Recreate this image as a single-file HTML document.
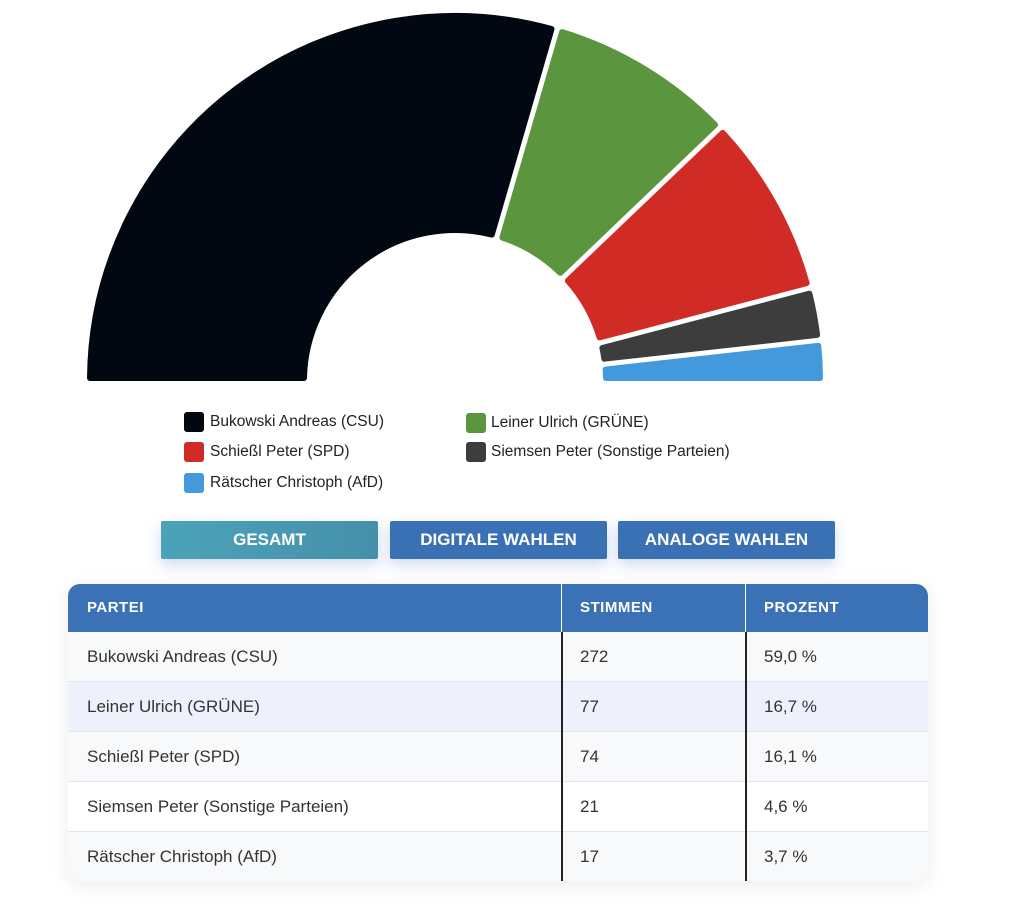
<!DOCTYPE html>
<html><head><meta charset="utf-8"><style>
body{margin:0;width:1024px;height:917px;background:#fff;font-family:"Liberation Sans",sans-serif;position:relative;overflow:hidden}
.a{position:absolute}
.sq{position:absolute;width:20px;height:20px;border-radius:3px}
.lt{position:absolute;font-size:15.5px;color:#222;line-height:20px}
.btn{position:absolute;top:521px;height:38px;width:217px;color:#fff;font-weight:bold;font-size:17px;text-align:center;line-height:38px;border-radius:2px;box-shadow:0 6px 14px rgba(60,110,200,0.25)}
.tbl{position:absolute;left:68px;top:584px;width:860px;height:297px;border-radius:12px;overflow:hidden;box-shadow:0 4px 20px rgba(0,0,0,0.08)}
.row{position:absolute;left:0;width:860px;height:49px;border-bottom:1px solid #e3e5ea;font-size:17px;color:#333;line-height:49px}
.row span{position:absolute}
</style></head><body>
<svg class="a" style="left:0;top:0" width="1024" height="400">
<g stroke-width="6" stroke-linejoin="round">
<path d="M90,378 A365,365 0 0 1 551.5,29 L491.8,234.6 A151,151 0 0 0 304,378 Z" fill="#020812" stroke="#020812"/>
<path d="M562.1,32.1 A365,365 0 0 1 715,124.8 L560.3,272.8 A151,151 0 0 0 502.4,237.6 Z" fill="#5b953e" stroke="#5b953e"/>
<path d="M722.7,132.9 A365,365 0 0 1 806.6,283.1 L599.6,337.4 A151,151 0 0 0 567.9,280.7 Z" fill="#d12b26" stroke="#d12b26"/>
<path d="M809.4,293.7 A365,365 0 0 1 817.1,334.9 L604.3,358.7 A151,151 0 0 0 602.4,348 Z" fill="#3d3d3d" stroke="#3d3d3d"/>
<path d="M818.3,345.8 A365,365 0 0 1 820,378 L606,378 A151,151 0 0 0 605.6,369.6 Z" fill="#4399db" stroke="#4399db"/>
</g></svg>
<div class="sq" style="left:184px;top:412px;background:#020812"></div><div class="lt" style="left:210px;top:412px">Bukowski Andreas (CSU)</div>
<div class="sq" style="left:466px;top:413px;background:#5b953e"></div><div class="lt" style="left:491px;top:413px">Leiner Ulrich (GRÜNE)</div>
<div class="sq" style="left:184px;top:442px;background:#d12b26"></div><div class="lt" style="left:210px;top:442px">Schießl Peter (SPD)</div>
<div class="sq" style="left:466px;top:442px;background:#3d3d3d"></div><div class="lt" style="left:491px;top:442px">Siemsen Peter (Sonstige Parteien)</div>
<div class="sq" style="left:184px;top:473px;background:#4399db"></div><div class="lt" style="left:210px;top:473px">Rätscher Christoph (AfD)</div>
<div class="btn" style="left:161px;background:linear-gradient(90deg,#4ba3b8,#4590aa)">GESAMT</div>
<div class="btn" style="left:390px;background:#3a70b4">DIGITALE WAHLEN</div>
<div class="btn" style="left:618px;background:#3a70b4">ANALOGE WAHLEN</div>
<div class="tbl">
<div class="a" style="left:0;top:0;width:860px;height:48px;background:#3a72b5;color:#fff;font-weight:bold;font-size:15px;line-height:48px;letter-spacing:0.5px">
<span class="a" style="left:19px">PARTEI</span><span class="a" style="left:512px">STIMMEN</span><span class="a" style="left:696px">PROZENT</span></div>
<div class="row" style="top:48px;background:#f8f9fb"><span style="left:19px">Bukowski Andreas (CSU)</span><span style="left:512px">272</span><span style="left:696px">59,0 %</span></div>
<div class="row" style="top:98px;background:#eef1fc"><span style="left:19px">Leiner Ulrich (GRÜNE)</span><span style="left:512px">77</span><span style="left:696px">16,7 %</span></div>
<div class="row" style="top:148px;background:#f8f9fb"><span style="left:19px">Schießl Peter (SPD)</span><span style="left:512px">74</span><span style="left:696px">16,1 %</span></div>
<div class="row" style="top:198px;background:#fff"><span style="left:19px">Siemsen Peter (Sonstige Parteien)</span><span style="left:512px">21</span><span style="left:696px">4,6 %</span></div>
<div class="row" style="top:248px;background:#f8f9fb;border-bottom:none"><span style="left:19px">Rätscher Christoph (AfD)</span><span style="left:512px">17</span><span style="left:696px">3,7 %</span></div>
<div class="a" style="left:493px;top:0;width:1px;height:48px;background:#fff"></div>
<div class="a" style="left:677px;top:0;width:1px;height:48px;background:#fff"></div>
<div class="a" style="left:493px;top:48px;width:2px;height:249px;background:#222"></div>
<div class="a" style="left:677px;top:48px;width:2px;height:249px;background:#222"></div>
</div>
</body></html>
